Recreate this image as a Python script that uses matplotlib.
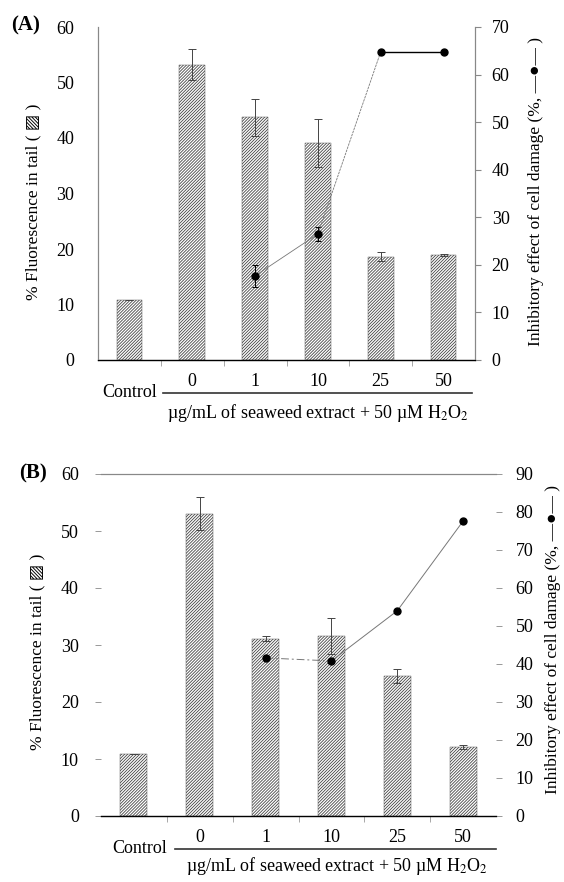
import matplotlib
matplotlib.use("Agg")
import matplotlib.pyplot as plt
import numpy as np
from matplotlib.lines import Line2D

plt.rcParams['font.family'] = ['Liberation Serif', 'DejaVu Sans']
plt.rcParams['mathtext.fontset'] = 'stix'
plt.rcParams['hatch.linewidth'] = 0.6

# ---------------- data ----------------
categories = ['Control', '0', '1', '10', '25', '50']
tick_labels = ['', '0', '1', '10', '25', '50']

a_fluor = [10.8, 53.2, 43.7, 39.1, 18.6, 18.9]
a_fluor_err = [0.0, 2.8, 3.4, 4.4, 0.8, 0.2]
a_inhib_x = [2, 3, 4, 5]
a_inhib = [17.7, 26.5, 64.8, 64.8]
a_inhib_err = [2.3, 1.5, 0.0, 0.0]

b_fluor = [10.9, 53.0, 31.1, 31.6, 24.6, 12.1]
b_fluor_err = [0.0, 2.9, 0.4, 3.1, 1.2, 0.3]
b_inhib_x = [2, 3, 4, 5]
b_inhib = [41.6, 40.8, 54.0, 77.6]

W, H = 564, 882
fig = plt.figure(figsize=(W / 100, H / 100), dpi=100)

def frac(x0, y0, x1, y1):
    return [x0 / W, 1 - y1 / H, (x1 - x0) / W, (y1 - y0) / H]

x = np.arange(len(categories))
xlabel_txt = u'\u00b5g/mL of seaweed extract + 50 \u00b5M H$_2$O$_2$'
left_lab = u'% Fluorescence in tail ( \u25a8 )'
right_lab = u'Inhibitory effect of cell damage (%, \u2014\u25cf\u2014 )'

TFS = 13
LFS = 12.5

def draw_panel(rect, fluor, ferr, ix, iv, ierr, rmax, rticks,
               lab_pos, style):
    ax = fig.add_axes(rect)
    ax.bar(x, fluor, width=0.41, color='white', edgecolor='#444444',
           linewidth=0.3, hatch='/' * 11, zorder=2)
    ax.errorbar(x, fluor, yerr=ferr, fmt='none', ecolor='#444444',
                elinewidth=0.7, capsize=3, capthick=0.7, zorder=3)
    ax.set_xlim(-0.5, 5.5)
    ax.set_ylim(0, 60)
    ax.set_yticks(range(0, 61, 10))
    ax.set_xticks(x)
    ax.set_xticklabels(tick_labels, fontsize=TFS)
    ax.set_xticks(np.arange(0.5, 5.5, 1.0), minor=True)
    ax.tick_params(axis='x', which='major', length=0, pad=9)
    ax.tick_params(axis='x', which='minor', length=4, direction='out',
                   color='#999999', width=0.6)
    ax.tick_params(axis='y', labelsize=TFS)
    ax.spines['bottom'].set_color('#333333')
    ax.spines['bottom'].set_linewidth(1.0)

    ax2 = ax.twinx()
    ax2.set_ylim(0, rmax)
    ax2.set_yticks(rticks)
    ax2.tick_params(axis='y', labelsize=TFS)
    if style == 'A':
        ax2.errorbar(ix, iv, yerr=ierr, fmt='none', ecolor='black',
                     elinewidth=0.7, capsize=2.5, capthick=0.7, zorder=4)
        ax2.plot(ix[:2], iv[:2], color='#777777', lw=0.6, zorder=4)
        ax2.plot(ix[1:3], iv[1:3], color='#777777', lw=0.6, ls=(0, (3, 1)),
                 zorder=4)
        ax2.plot(ix[2:], iv[2:], color='black', lw=1.0, zorder=4)
        ax2.plot(ix, iv, 'o', color='black', ms=5, zorder=5)
        for a in (ax, ax2):
            a.spines['top'].set_visible(False)
            a.spines['left'].set_color('#888888')
            a.spines['right'].set_color('#888888')
        ax.tick_params(axis='y', length=0, pad=17)
        ax2.tick_params(axis='y', length=4, color='#888888', pad=8)
    else:
        ax2.plot(ix[:2], iv[:2], color='#777777', lw=0.7,
                 ls=(0, (8, 3, 2, 3)), zorder=4)
        ax2.plot(ix[1:], iv[1:], color='#777777', lw=0.7, zorder=4)
        ax2.plot(ix, iv, 'o', color='black', ms=5, zorder=5)
        for a in (ax, ax2):
            a.spines['left'].set_visible(False)
            a.spines['right'].set_visible(False)
            a.spines['top'].set_color('#888888')
        ax.tick_params(axis='y', length=4, color='#888888', width=0.6,
                       pad=12)
        ax2.tick_params(axis='y', length=4, color='#888888', width=0.6,
                        pad=10)

    ax.set_ylabel(left_lab, fontsize=LFS)
    ax.yaxis.set_label_coords(*lab_pos[0])
    ax2.set_ylabel(right_lab, fontsize=LFS)
    ax2.yaxis.set_label_coords(*lab_pos[1])

    trans = ax.get_xaxis_transform()
    ax.text(lab_pos[8], lab_pos[2], 'Control', transform=trans, ha='center',
            va='center', fontsize=13, clip_on=False)
    ax.add_line(Line2D([lab_pos[3], lab_pos[4]], [lab_pos[5], lab_pos[5]],
                       transform=trans, color='#333333', lw=1.2,
                       clip_on=False))
    ax.text(lab_pos[6], lab_pos[7], xlabel_txt, transform=trans,
            ha='center', va='center', fontsize=13, clip_on=False)
    return ax, ax2

draw_panel(frac(98, 27, 475, 360), a_fluor, a_fluor_err, a_inhib_x, a_inhib,
           a_inhib_err, 70, range(0, 71, 10),
           [(-0.149, 0.475), (1.14, 0.505), -0.098, 0.53, 5.45, -0.099,
            3.0, -0.159, 0.0], 'A')
draw_panel(frac(101, 474, 496, 816), b_fluor, b_fluor_err, b_inhib_x, b_inhib,
           None, 90, range(0, 91, 10),
           [(-0.142, 0.48), (1.125, 0.515), -0.094, 0.62, 5.5, -0.0965,
            3.09, -0.146, 0.08], 'B')

fig.text(26 / W, 1 - 25 / H, '(A)', fontsize=15, fontweight='bold',
         ha='center', va='center')
fig.text(33 / W, 1 - 473 / H, '(B)', fontsize=15, fontweight='bold',
         ha='center', va='center')

fig.savefig('out.png', dpi=100)
